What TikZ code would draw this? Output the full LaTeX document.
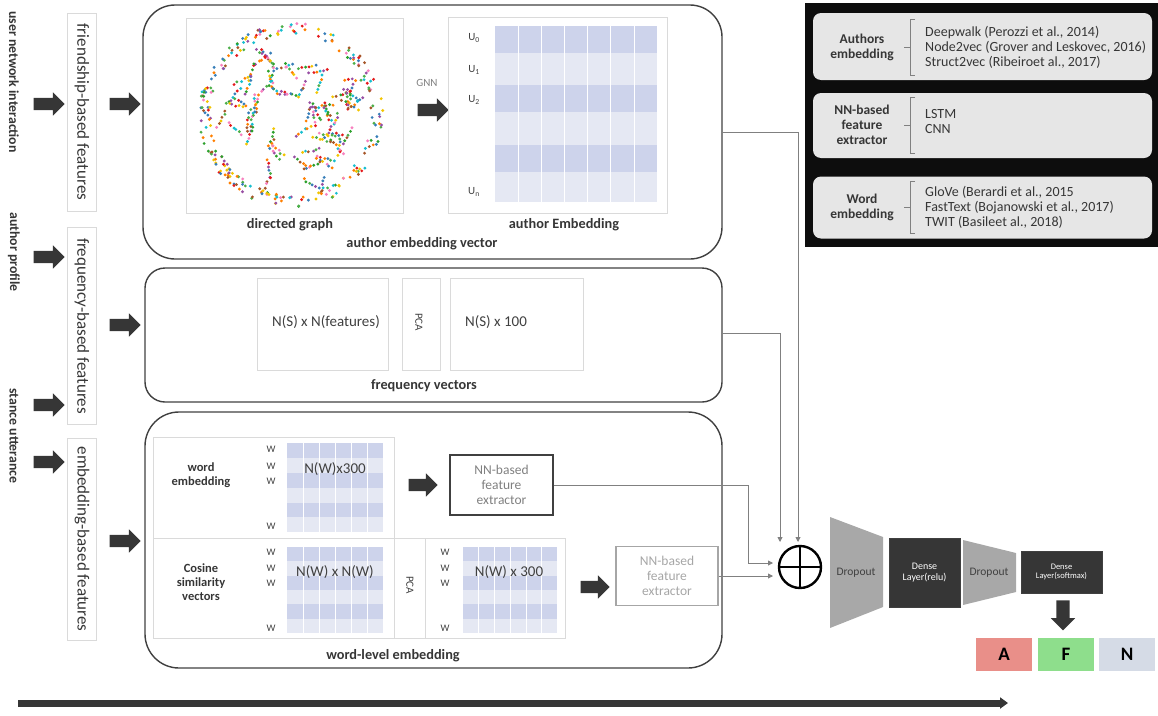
\documentclass[tikz,border=0pt]{standalone}
\usepackage{fontspec}
\setmainfont{Carlito}
\usepackage{xcolor}
\usepackage{tikz}
\usetikzlibrary{shapes.arrows, arrows.meta, positioning}

\definecolor{bandD}{HTML}{CDD3EB}
\definecolor{bandL}{HTML}{E5E8F3}
\definecolor{panelgray}{HTML}{DADADA}
\definecolor{boxline}{HTML}{404040}
\definecolor{fatgray}{HTML}{363636}
\definecolor{dropgray}{HTML}{A8A8A8}
\definecolor{legfill}{HTML}{E6E6E6}
\definecolor{clsA}{HTML}{E98F89}
\definecolor{clsF}{HTML}{8EDE8C}
\definecolor{clsN}{HTML}{D5DBE6}
\definecolor{dc0}{HTML}{E41A1C}
\definecolor{dc1}{HTML}{377EB8}
\definecolor{dc2}{HTML}{4DAF4A}
\definecolor{dc3}{HTML}{984EA3}
\definecolor{dc4}{HTML}{FF7F00}
\definecolor{dc5}{HTML}{F2C500}
\definecolor{dc6}{HTML}{A65628}
\definecolor{dc7}{HTML}{F781BF}
\definecolor{dc8}{HTML}{17BECF}
\definecolor{dc9}{HTML}{2CA02C}

\begin{document}
\begin{tikzpicture}[x=1pt, y=-1pt, >=Stealth,
  srclabel/.style={rotate=-90, font=\fontsize{13.8}{15}\selectfont\bfseries, text=fatgray, inner sep=0pt},
  featbox/.style={rotate=-90, draw=panelgray, font=\fontsize{17}{18}\selectfont, text=fatgray, minimum height=29pt, inner sep=0pt},
  fatarrow/.style={single arrow, fill=fatgray, draw=none, minimum height=31pt, single arrow head extend=5.5pt, inner sep=0pt},
  mainbox/.style={draw=boxline, line width=1.4pt, inner sep=0pt},
  panel/.style={draw=panelgray, line width=0.7pt, inner sep=0pt},
  caption/.style={font=\fontsize{14.3}{16}\selectfont\bfseries, text=fatgray},
  mtext/.style={font=\fontsize{15}{17}\selectfont, text=boxline},
  wlab/.style={font=\fontsize{10}{11}\selectfont, text=boxline},
  sidelab/.style={align=center, font=\fontsize{12.5}{14}\selectfont\bfseries, text=fatgray},
  nnbox/.style={draw=boxline, line width=1.2pt, align=center, font=\fontsize{13.5}{15}\selectfont, text=gray, inner sep=0pt},
  feed/.style={draw=gray, line width=0.9pt, -{Triangle[length=5pt,width=5pt]}},
  legbox/.style={fill=legfill, rounded corners=8pt, inner sep=0pt, minimum width=339pt},
  leghead/.style={font=\fontsize{13.5}{15}\selectfont\bfseries, text=fatgray, align=center},
  legtext/.style={font=\fontsize{14}{15}\selectfont, text=fatgray, align=left, anchor=west, inner sep=0pt},
  darkbox/.style={fill=fatgray, draw=boxline, text=white, align=center, inner sep=0pt},
  clsbox/.style={minimum width=56pt, minimum height=33pt, inner sep=0pt, font=\fontsize{19}{19}\selectfont\bfseries}]
  \useasboundingbox (0,0) rectangle (1158,715);

  % ---- Inputs ----
  \node[srclabel] (srcNet) at (14,82) {user network interaction};
  \node[srclabel] (srcProf) at (14,252) {author profile};
  \node[srclabel] (srcStance) at (14,436) {stance utterance};
  \node[fatarrow] (inNet) at (46,104) {\rule{0pt}{12pt}};
  \node[fatarrow] (inProf) at (46,257) {\rule{0pt}{12pt}};
  \node[fatarrow] (inStanceA) at (46,405) {\rule{0pt}{12pt}};
  \node[fatarrow] (inStanceB) at (46,462) {\rule{0pt}{12pt}};

  % ---- Feature groups ----
  \node[featbox, minimum width=198pt] (featFriend) at (82,112) {friendship-based features};
  \node[featbox, minimum width=197pt] (featFreq) at (82,326) {frequency-based features};
  \node[featbox, minimum width=202pt] (featEmb) at (82,539) {embedding-based features};
  \node[fatarrow] (toA) at (122,104) {\rule{0pt}{12pt}};
  \node[fatarrow] (toB) at (122,325) {\rule{0pt}{12pt}};
  \node[fatarrow] (toC) at (122,541) {\rule{0pt}{12pt}};

  % ---- Author embedding vector ----
  \node[mainbox, rounded corners=32pt, minimum width=579pt, minimum height=254pt] (boxA) at (432.5,132) {};
  \node[panel, minimum width=217pt, minimum height=195pt] (graphPanel) at (294.5,115.5) {};
  \pgfmathsetseed{2024}
  \foreach \k in {1,...,230}{
    \pgfmathsetmacro{\ang}{rnd*360}
    \pgfmathsetmacro{\rad}{80+rnd*12}
    \pgfmathtruncatemacro{\col}{rnd*9.99}
    \fill[dc\col] ({291+\rad*cos(\ang)},{115+\rad*sin(\ang)}) circle (1.6pt);
  }
  \foreach \k in {1,...,60}{
    \pgfmathsetmacro{\ang}{rnd*360}
    \pgfmathsetmacro{\rad}{4+sqrt(rnd)*66}
    \pgfmathsetmacro{\dir}{rnd*360}
    \pgfmathsetmacro{\sx}{291+\rad*cos(\ang)}
    \pgfmathsetmacro{\sy}{115+\rad*sin(\ang)}
    \foreach \j in {0,...,5}{
      \pgfmathtruncatemacro{\col}{rnd*9.99}
      \fill[dc\col] ({\sx+\j*3.6*cos(\dir)+rnd*2},{\sy+\j*3.6*sin(\dir)+rnd*2}) circle (1.6pt);
    }
  }
  \node[caption] (capGraph) at (290,225) {directed graph};
  \node[font=\fontsize{11}{12}\selectfont, text=gray] (gnnLabel) at (427,83) {GNN};
  \node[fatarrow] (gnnArrow) at (430,110) {\rule{0pt}{12pt}};
  \node[panel, minimum width=219pt, minimum height=196pt] (embPanel) at (557.5,115) {};
  \foreach \t/\b/\c in {26/53/bandD,53/85/bandL,85/112/bandD,112/145/bandL,145/172/bandD,172/202/bandL}
    \fill[\c] (495,\t) rectangle (657,\b);
  \foreach \k in {1,...,6}
    \draw[white, line width=0.6pt] ({495+\k*23.14},26) -- ({495+\k*23.14},202);
  \node[wlab, font=\fontsize{11}{12}\selectfont] (uZero) at (474,38) {U\textsubscript{0}};
  \node[wlab, font=\fontsize{11}{12}\selectfont] (uOne) at (474,70) {U\textsubscript{1}};
  \node[wlab, font=\fontsize{11}{12}\selectfont] (uTwo) at (474,100) {U\textsubscript{2}};
  \node[wlab, font=\fontsize{11}{12}\selectfont] (uLast) at (474,192) {U\textsubscript{n}};
  \node[caption] (capEmb) at (564,225) {author Embedding};
  \node[caption] (capA) at (422,244) {author embedding vector};

  % ---- Frequency vectors ----
  \node[mainbox, rounded corners=20pt, minimum width=577pt, minimum height=134pt] (boxB) at (433.5,335) {};
  \node[panel, minimum width=131pt, minimum height=92pt] (freqIn) at (323,324) {};
  \node[panel, minimum width=38pt, minimum height=92pt] (freqPca) at (421,324) {};
  \node[panel, minimum width=133pt, minimum height=92pt] (freqOut) at (516.5,324) {};
  \node[mtext] (freqInTxt) at (326,322) {N(S) x N(features)};
  \node[mtext, rotate=-90, font=\fontsize{11}{12}\selectfont] (freqPcaTxt) at (419,322) {PCA};
  \node[mtext] (freqOutTxt) at (496,322) {N(S) x 100};
  \node[caption] (capB) at (424,386) {frequency vectors};

  % ---- Word-level embedding ----
  \node[mainbox, rounded corners=34pt, minimum width=577pt, minimum height=256pt] (boxC) at (433.5,540) {};
  \draw[panel] (153,437) rectangle (394,538);
  \draw[panel] (153,538) rectangle (394,638);
  \draw[panel] (394,538) rectangle (425,638);
  \draw[panel] (425,538) rectangle (565,638);
  \foreach \t/\b/\c in {443/458/bandD,458/473/bandL,473/488/bandD,488/503/bandL,503/517/bandD,517/532/bandL}
    \fill[\c] (287,\t) rectangle (383,\b);
  \foreach \t/\b/\c in {547/561/bandD,561/576/bandL,576/590/bandD,590/604/bandL,604/619/bandD,619/633/bandL}{
    \fill[\c] (287,\t) rectangle (383,\b);
    \fill[\c] (463,\t) rectangle (557,\b);
  }
  \foreach \k in {1,...,5}{
    \draw[white, line width=0.5pt] ({287+\k*16},443) -- ({287+\k*16},532);
    \draw[white, line width=0.5pt] ({287+\k*16},547) -- ({287+\k*16},633);
    \draw[white, line width=0.5pt] ({463+\k*15.7},547) -- ({463+\k*15.7},633);
  }
  \foreach \y in {449,466,481,526}
    \node[wlab] at (271,\y) {W};
  \foreach \y in {552,568,583,628}{
    \node[wlab] at (271,\y) {W};
    \node[wlab] at (445,\y) {W};
  }
  \node[sidelab] (wordLab) at (201,475) {word\\embedding};
  \node[sidelab] (cosLab) at (201,582) {Cosine\\similarity\\vectors};
  \node[mtext] (wordTxt) at (335,469) {N(W)x300};
  \node[mtext] (cosTxt) at (335,572) {N(W) x N(W)};
  \node[mtext, rotate=-90, font=\fontsize{11}{12}\selectfont] (cosPca) at (410,585) {PCA};
  \node[mtext] (cosOutTxt) at (509,572) {N(W) x 300};
  \node[fatarrow, minimum height=29pt] (wordArrow) at (420,485) {\rule{0pt}{12pt}};
  \node[fatarrow, minimum height=29pt] (cosArrow) at (592,587) {\rule{0pt}{12pt}};
  \node[nnbox, minimum width=103pt, minimum height=60pt] (nnWord) at (501.5,485) {NN-based\\feature\\extractor};
  \node[nnbox, draw=gray!70, text=gray!70, minimum width=102pt, minimum height=59pt] (nnCos) at (667,576) {NN-based\\feature\\extractor};
  \node[caption] (capC) at (393,656) {word-level embedding};

  % ---- Legend ----
  \fill[black!95] (805,3) rectangle (1158,247);
  \node[legbox, minimum height=67pt] (legAuth) at (982.5,46.5) {};
  \node[legbox, minimum height=65pt] (legNN) at (982.5,125.5) {};
  \node[legbox, minimum height=62pt] (legWord) at (982.5,207.5) {};
  \node[leghead] (legAuthHead) at (862,47) {Authors\\embedding};
  \node[leghead] (legNNHead) at (862,125) {NN-based\\feature\\extractor};
  \node[leghead] (legWordHead) at (862,207) {Word\\embedding};
  \foreach \yc/\h in {47/28,125/28,207/26}{
    \draw[gray, line width=0.7pt] (915,\yc-\h) -- (910,\yc-\h) -- (910,\yc+\h) -- (915,\yc+\h);
    \draw[gray, line width=0.7pt] (904,\yc) -- (910,\yc);
  }
  \node[legtext] (legAuthList) at (925,47) {Deepwalk (Perozzi et al., 2014)\\Node2vec (Grover and Leskovec, 2016)\\Struct2vec (Ribeiroet al., 2017)};
  \node[legtext] (legNNList) at (925,122) {LSTM\\CNN};
  \node[legtext] (legWordList) at (925,207) {GloVe (Berardi et al., 2015\\FastText (Bojanowski et al., 2017)\\TWIT (Basileet al., 2018)};

  % ---- Fusion ----
  \node[circle, draw=black, line width=2.4pt, minimum size=42pt, inner sep=0pt] (plus) at (800,567) {};
  \draw[line width=2.4pt] (plus.north) -- (plus.south);
  \draw[line width=2.4pt] (plus.west) -- (plus.east);
  \coordinate (plusTopR) at (798,542);
  \coordinate (plusTopL) at (780,542);
  \coordinate (plusInU) at (773,563);
  \coordinate (plusInL) at (773,576);
  \draw[feed] (boxA.east) -| (plusTopR);
  \draw[feed] ([yshift=2pt]boxB.east) -| (plusTopL);
  \draw[feed] (nnWord.east) -- ++(195,0) |- (plusInU);
  \draw[feed] (nnCos.east) -- (plusInL);

  % ---- Classifier ----
  \fill[dropgray] (830,517) -- (883,537) -- (883,607) -- (830,628) -- cycle;
  \node[font=\fontsize{11.5}{12}\selectfont, text=boxline] (dropA) at (856,573) {Dropout};
  \node[darkbox, minimum width=71pt, minimum height=69pt, font=\fontsize{10}{11}\selectfont] (denseRelu) at (924.5,572.5) {Dense\\Layer(relu)};
  \fill[dropgray] (963,540) -- (1016,553) -- (1016,592) -- (963,605) -- cycle;
  \node[font=\fontsize{11.5}{12}\selectfont, text=boxline] (dropB) at (989,573) {Dropout};
  \node[darkbox, minimum width=81pt, minimum height=42pt, font=\fontsize{8.5}{9.5}\selectfont] (denseSoft) at (1061.5,572) {Dense\\Layer(softmax)};
  \node[fatarrow, rotate=-90, minimum height=30pt] (outArrow) at (1063,612) {\rule{0pt}{13pt}};
  \node[clsbox, fill=clsA] (clsA) at (1004,654.5) {A};
  \node[clsbox, fill=clsF] (clsF) at (1066,654.5) {F};
  \node[clsbox, fill=clsN] (clsN) at (1127,654.5) {N};

  % ---- Flow direction ----
  \coordinate (flowL) at (18,703);
  \coordinate (flowR) at (1008,703);
  \draw[line width=7pt, fatgray, -{Triangle[length=8pt,width=11pt]}] (flowL) -- (flowR);
\end{tikzpicture}
\end{document}
